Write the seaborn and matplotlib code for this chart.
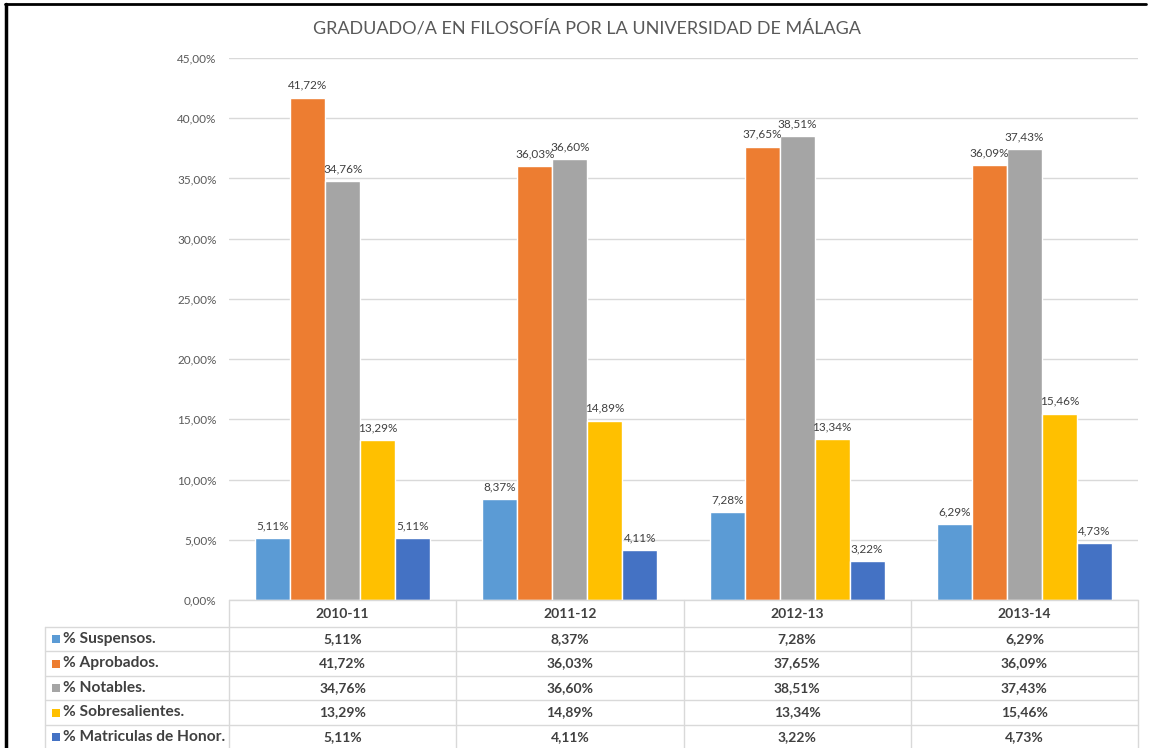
import pandas as pd
import matplotlib.pyplot as plt
import seaborn as sns
from matplotlib.lines import Line2D
from matplotlib.patches import Rectangle

# Datos
years = ["2010-11", "2011-12", "2012-13", "2013-14"]
series = ["% Suspensos.", "% Aprobados.", "% Notables.", "% Sobresalientes.", "% Matriculas de Honor."]
suspensos = [5.11, 8.37, 7.28, 6.29]
aprobados = [41.72, 36.03, 37.65, 36.09]
notables = [34.76, 36.60, 38.51, 37.43]
sobresalientes = [13.29, 14.89, 13.34, 15.46]
matriculas = [5.11, 4.11, 3.22, 4.73]
colors = ["#5B9BD5", "#ED7D31", "#A5A5A5", "#FFC000", "#4472C4"]

values = [suspensos, aprobados, notables, sobresalientes, matriculas]
df = pd.DataFrame(
    [(y, s, v) for s, vals in zip(series, values) for y, v in zip(years, vals)],
    columns=["curso", "serie", "valor"],
)


def pct(v):
    return f"{v:.2f}%".replace(".", ",")


sns.set_style("white")
plt.rcParams["font.family"] = ["Lato", "DejaVu Sans"]

W, H = 1151, 748
fig = plt.figure(figsize=(W / 100, H / 100), dpi=100)
ax_l, ax_r, ax_t, ax_b = 229, 1138, 58, 600
ax = fig.add_axes([ax_l / W, 1 - ax_b / H, (ax_r - ax_l) / W, (ax_b - ax_t) / H])

sns.barplot(data=df, x="curso", y="valor", hue="serie", hue_order=series,
            palette=colors, width=0.77, gap=0, saturation=1, ax=ax, legend=False)

ax.set_xlim(-0.5, len(years) - 0.5)
ax.set_ylim(0, 45)
ax.set_yticks(range(0, 46, 5))
ax.set_yticklabels([pct(t) for t in range(0, 46, 5)], color="#595959", fontsize=8.5)
ax.tick_params(axis="y", length=0, pad=9)
ax.set_xticks([])
ax.set_xlabel("")
ax.set_ylabel("")
ax.grid(axis="y", color="#D9D9D9", linewidth=1)
ax.set_axisbelow(True)
for sp in ax.spines.values():
    sp.set_visible(False)

for cont, vals in zip(ax.containers, values):
    ax.bar_label(cont, labels=[pct(v) for v in vals], padding=5,
                 fontsize=8.5, color="#404040")

fig.text(587 / W, 1 - 28 / H,
         "GRADUADO/A EN FILOSOFÍA POR LA UNIVERSIDAD DE MÁLAGA",
         ha="center", va="center", fontsize=13, color="#595959")

# Tabla de datos bajo el eje
line_c = "#D9D9D9"
txt_c = "#404040"
row_lines = [600, 627, 651, 676, 700, 725, 749]
label_left = 45


def fy(p):
    return 1 - p / H


def fx(p):
    return p / W


col_edges = [ax_l + i * (ax_r - ax_l) / len(years) for i in range(len(years) + 1)]
for i, y in enumerate(row_lines):
    x0 = ax_l if i == 0 else label_left
    fig.add_artist(Line2D([fx(x0), fx(ax_r)], [fy(y), fy(y)], color=line_c, lw=1))
for x in col_edges:
    fig.add_artist(Line2D([fx(x), fx(x)], [fy(600), fy(749)], color=line_c, lw=1))
fig.add_artist(Line2D([fx(label_left), fx(label_left)], [fy(627), fy(749)], color=line_c, lw=1))

for j, yr in enumerate(years):
    cx = 0.5 * (col_edges[j] + col_edges[j + 1])
    fig.text(fx(cx), fy(613.5), yr, ha="center", va="center",
             fontsize=10, fontweight="bold", color=txt_c)
for i, (s, vals, c) in enumerate(zip(series, values, colors)):
    cy = 0.5 * (row_lines[i + 1] + row_lines[i + 2])
    fig.add_artist(Rectangle((fx(52), fy(cy + 4)), 8 / W, 8 / H, color=c, lw=0))
    fig.text(fx(63), fy(cy), s, ha="left", va="center",
             fontsize=11.2, fontweight="bold", color=txt_c)
    for j, v in enumerate(vals):
        cx = 0.5 * (col_edges[j] + col_edges[j + 1])
        fig.text(fx(cx), fy(cy), pct(v), ha="center", va="center",
                 fontsize=10, fontweight="bold", color=txt_c)

# Marco negro de la captura
fig.add_artist(Line2D([fx(6), fx(6)], [fy(4), fy(748)], color="black", lw=2.5))
fig.add_artist(Line2D([fx(5), fx(1146)], [fy(4), fy(4)], color="black", lw=2))

fig.savefig("out.png", dpi=100)
plt.close(fig)
